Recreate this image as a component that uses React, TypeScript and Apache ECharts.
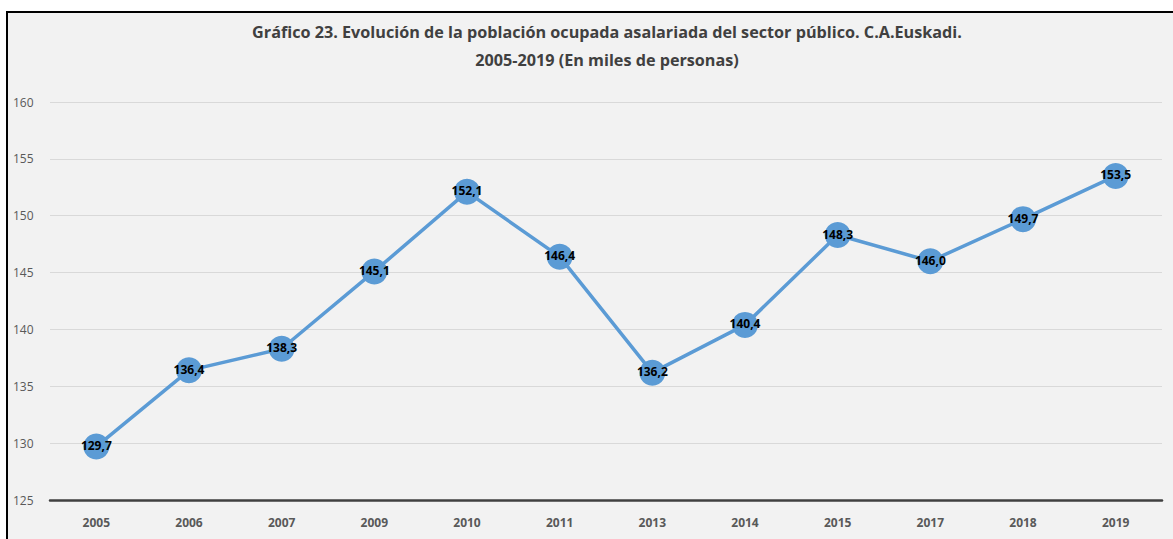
import React, { useEffect, useRef } from "react";
import * as echarts from "echarts";

const years = ["2005", "2006", "2007", "2009", "2010", "2011", "2013", "2014", "2015", "2017", "2018", "2019"];
const values = [129.7, 136.4, 138.3, 145.1, 152.1, 146.4, 136.2, 140.4, 148.3, 146.0, 149.7, 153.5];
const titleLines = [
  "Gráfico 23. Evolución de la población ocupada asalariada del sector público. C.A.Euskadi.",
  "2005-2019 (En miles de personas)",
];

export default function App() {
  const ref = useRef<HTMLDivElement>(null);
  useEffect(() => {
    document.body.style.margin = "0";
    const chart = echarts.init(ref.current!, null, { renderer: "svg" });
    chart.setOption({
      animation: false,
      backgroundColor: "#ffffff",
      graphic: [
        {
          type: "rect",
          z: -10,
          shape: { x: 7, y: 12, width: 1180, height: 540 },
          style: { fill: "#f2f2f2", stroke: "#000000", lineWidth: 2 },
        },
      ],
      title: {
        text: titleLines.join("\n"),
        left: 602,
        textAlign: "center",
        top: 13,
        textStyle: {
          fontFamily: "Open Sans",
          fontWeight: "bold",
          fontSize: 16.2,
          color: "#404040",
          lineHeight: 28,
        },
      },
      grid: { left: 50, right: 11, top: 102, bottom: 39, containLabel: false },
      xAxis: {
        type: "category",
        data: years,
        boundaryGap: true,
        axisLine: { show: true, lineStyle: { color: "#404040", width: 2.5 } },
        axisTick: { show: false },
        axisLabel: {
          margin: 16,
          fontFamily: "Open Sans",
          fontWeight: "bold",
          fontSize: 12,
          color: "#595959",
        },
      },
      yAxis: {
        type: "value",
        min: 125,
        max: 160,
        interval: 5,
        axisLine: { show: false },
        axisTick: { show: false },
        splitLine: { lineStyle: { color: "#d9d9d9", width: 1 } },
        axisLabel: {
          align: "left",
          margin: 37,
          fontFamily: "Open Sans",
          fontSize: 12,
          color: "#595959",
        },
      },
      series: [
        {
          type: "line",
          data: values,
          symbol: "circle",
          symbolSize: 26,
          itemStyle: { color: "#5b9bd5" },
          lineStyle: { color: "#5b9bd5", width: 3.5 },
          label: {
            show: true,
            position: "inside",
            formatter: (p: any) => p.value.toFixed(1).replace(".", ","),
            fontFamily: "Open Sans",
            fontWeight: "bold",
            fontSize: 12,
            color: "#000000",
            offset: [0, -1],
          },
        },
      ],
    });
    return () => chart.dispose();
  }, []);
  return <div ref={ref} style={{ width: 1173, height: 539 }} />;
}
